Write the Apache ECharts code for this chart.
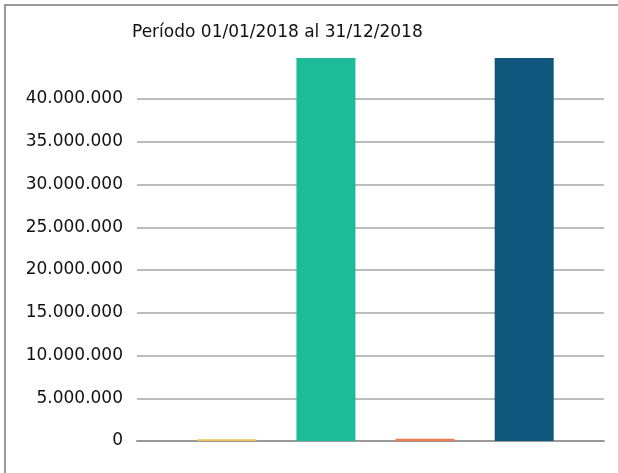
<!DOCTYPE html>
<html>
<head>
<meta charset="utf-8">
<script src="https://cdn.jsdelivr.net/npm/echarts@6/dist/echarts.min.js"></script>
<style>
html,body{margin:0;padding:0;background:#fff;}
#c{width:618px;height:473px;}
</style>
</head>
<body>
<div id="c"></div>
<script>
var categories = ['2018'];
var seriesNames = ['Serie 1', 'Serie 2', 'Serie 3', 'Serie 4'];
var seriesValues = [
  [200000],
  [44800000],
  [250000],
  [44800000]
];
var seriesColors = ['#f0c15a', '#1dbb98', '#f07b4c', '#10577e'];
var titleText = 'Período 01/01/2018 al 31/12/2018';
var yMin = 0, yMax = 45000000, yStep = 5000000;

function fmt(v) {
  return String(Math.round(v)).replace(/\B(?=(\d{3})+(?!\d))/g, '.');
}

var chart = echarts.init(document.getElementById('c'), null, {renderer: 'canvas'});
var series = seriesNames.map(function (n, i) {
  return {
    name: n,
    type: 'bar',
    xAxisIndex: 1,
    yAxisIndex: 1,
    data: seriesValues[i],
    barWidth: 59,
    barGap: '68%',
    itemStyle: {color: seriesColors[i]},
    silent: true
  };
});
chart.setOption({
  animation: false,
  backgroundColor: '#fff',
  title: {
    text: titleText,
    left: 127,
    top: 19,
    textStyle: {fontFamily: 'DejaVu Sans', fontSize: 17, fontWeight: 'normal', color: '#111'}
  },
  graphic: [{
    type: 'rect',
    shape: {x: 5, y: 5, width: 800, height: 700},
    style: {fill: 'none', stroke: '#9a9a9a', lineWidth: 2},
    silent: true
  }],
  grid: [
    {left: 137, right: 14, top: 56.25, bottom: 32, containLabel: false},
    {left: 142, right: 9, top: 56.25, bottom: 32, containLabel: false}
  ],
  xAxis: [{
    type: 'category',
    gridIndex: 0,
    data: categories,
    axisLine: {show: true, lineStyle: {color: '#9a9a9a', width: 2}},
    axisTick: {show: false},
    axisLabel: {show: false}
  }, {
    type: 'category',
    gridIndex: 1,
    data: categories,
    show: false
  }],
  yAxis: [{
    type: 'value',
    gridIndex: 0,
    min: yMin,
    max: yMax,
    interval: yStep,
    axisLine: {show: false},
    axisTick: {show: false},
    axisLabel: {
      margin: 14,
      showMaxLabel: false,
      fontFamily: 'DejaVu Sans',
      fontSize: 17,
      color: '#111',
      formatter: function (v) { return fmt(v); }
    },
    splitLine: {
      show: true,
      lineStyle: {
        width: 1.5,
        color: ['#a6a6a6', '#a6a6a6', '#a6a6a6', '#a6a6a6', '#a6a6a6', '#a6a6a6', '#a6a6a6', '#a6a6a6', '#a6a6a6', 'rgba(0,0,0,0)']
      }
    }
  }, {
    type: 'value',
    gridIndex: 1,
    min: yMin,
    max: yMax,
    interval: yStep,
    show: false,
    splitLine: {show: false}
  }],
  series: series
});
</script>
</body>
</html>
